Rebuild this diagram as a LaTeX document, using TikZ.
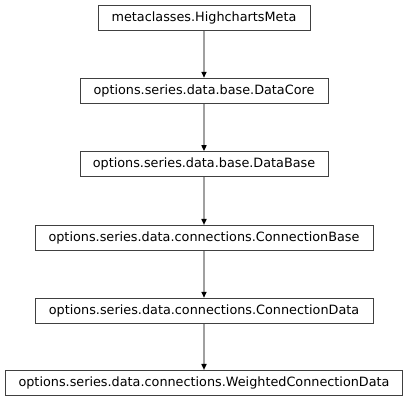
\documentclass[tikz,border=0pt]{standalone}
\usepackage{fontspec}
\setmainfont{DejaVu Sans}
\usetikzlibrary{arrows.meta}
\definecolor{boxline}{HTML}{404040}
\definecolor{edgegray}{HTML}{A0A0A0}
\begin{document}
\begin{tikzpicture}[x=1pt,y=1pt,
  cls/.style={draw=boxline, line width=1pt, fill=white, minimum height=25pt, inner sep=0pt, font=\fontsize{12.8}{15}\selectfont},
  inh/.style={draw=edgegray, line width=1.6pt, -{Triangle[length=6pt,width=5pt,color=black,fill=black]}, shorten >=0pt}
]
\useasboundingbox (0,0) rectangle (408,403);
\node[cls, minimum width=212pt] (n1) at (204,385.3) {metaclasses.HighchartsMeta};
\node[cls, minimum width=248pt] (n2) at (204,312.2) {options.series.data.base.DataCore};
\node[cls, minimum width=248pt] (n3) at (204,238.8) {options.series.data.base.DataBase};
\node[cls, minimum width=338pt] (n4) at (204,165) {options.series.data.connections.ConnectionBase};
\node[cls, minimum width=338pt] (n5) at (204,92.2) {options.series.data.connections.ConnectionData};
\node[cls, minimum width=397pt] (n6) at (204,20) {options.series.data.connections.WeightedConnectionData};
\draw[inh] (n1) -- (n2);
\draw[inh] (n2) -- (n3);
\draw[inh] (n3) -- (n4);
\draw[inh] (n4) -- (n5);
\draw[inh] (n5) -- (n6);
\end{tikzpicture}
\end{document}
